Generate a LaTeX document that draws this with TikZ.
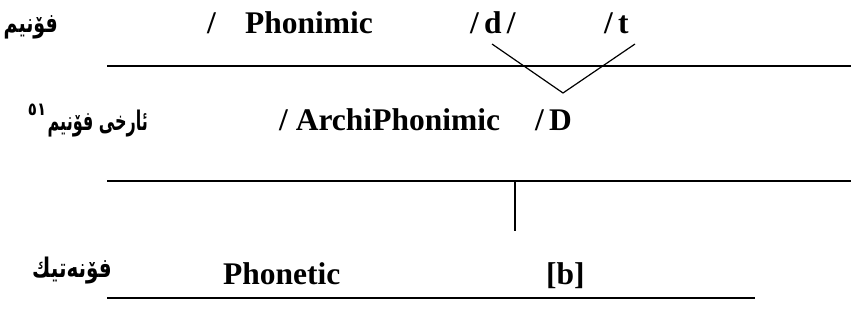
\documentclass[tikz,border=0pt]{standalone}
\usepackage{graphicx}
\usepackage{fontspec}
\setmainfont{Liberation Serif}
\newfontfamily\arabicfont[Script=Arabic]{DejaVu Sans}
\TeXXeTstate=1
\begin{document}
\begin{tikzpicture}[x=1pt,y=-1pt,
  lat/.style={inner sep=0pt,anchor=base west,font=\fontsize{31.5}{36}\selectfont\bfseries},
  ara/.style={inner sep=0pt,anchor=base east,font=\arabicfont\fontsize{20}{26}\selectfont\bfseries},
  rule/.style={line width=1.5pt},
  link/.style={line width=1.2pt}]
\useasboundingbox (0,0) rectangle (851,326);
% labels in Kurdish
\node[ara] (k1) at (58,33) {\scalebox{0.95}[1.35]{\beginR فۆنیم\endR}};
\node[ara] (k2) at (148,131) {\scalebox{0.8}[1.35]{\beginR ئارخی فۆنیم\endR}};
\node[inner sep=0pt,anchor=base east,font=\arabicfont\fontsize{15}{18}\selectfont\bfseries] (k2n) at (k2.base west) [yshift=15pt,xshift=-1pt] {\scalebox{1}[1.2]{٥١}};
\node[ara] (k3) at (112,277) {\scalebox{1}[1.35]{\beginR فۆنەتیك\endR}};
% row 1
\node[lat] (s1) at (207,34) {/};
\node[lat] (ph) at (245,34) {Phonimic};
\node[lat] (d) at (470,34) {/\,d\,/};
\node[lat] (t) at (604,34) {/\,t};
% row 2
\node[lat] (ar) at (279,131) {/ ArchiPhonimic};
\node[lat] (D) at (535,131) {/\,D};
% row 3
\node[lat] (pt) at (223,284) {Phonetic};
\node[lat] (b) at (546,284) {[b]};
% rules
\coordinate (l1a) at (107,66); \coordinate (l1b) at (851,66);
\coordinate (l2a) at (107,181); \coordinate (l2b) at (851,181);
\coordinate (l3a) at (107,298); \coordinate (l3b) at (755,298);
\draw[rule] (l1a) -- (l1b);
\draw[rule] (l2a) -- (l2b);
\draw[rule] (l3a) -- (l3b);
% V connector
\coordinate (va) at (492,44);
\coordinate (vb) at (563,93);
\coordinate (vc) at (635,44);
\draw[link] (va) -- (vb) -- (vc);
% vertical
\coordinate (vt) at (515,181);
\coordinate (vd) at (515,231);
\draw[link] (vt) -- (vd);
\end{tikzpicture}
\end{document}
